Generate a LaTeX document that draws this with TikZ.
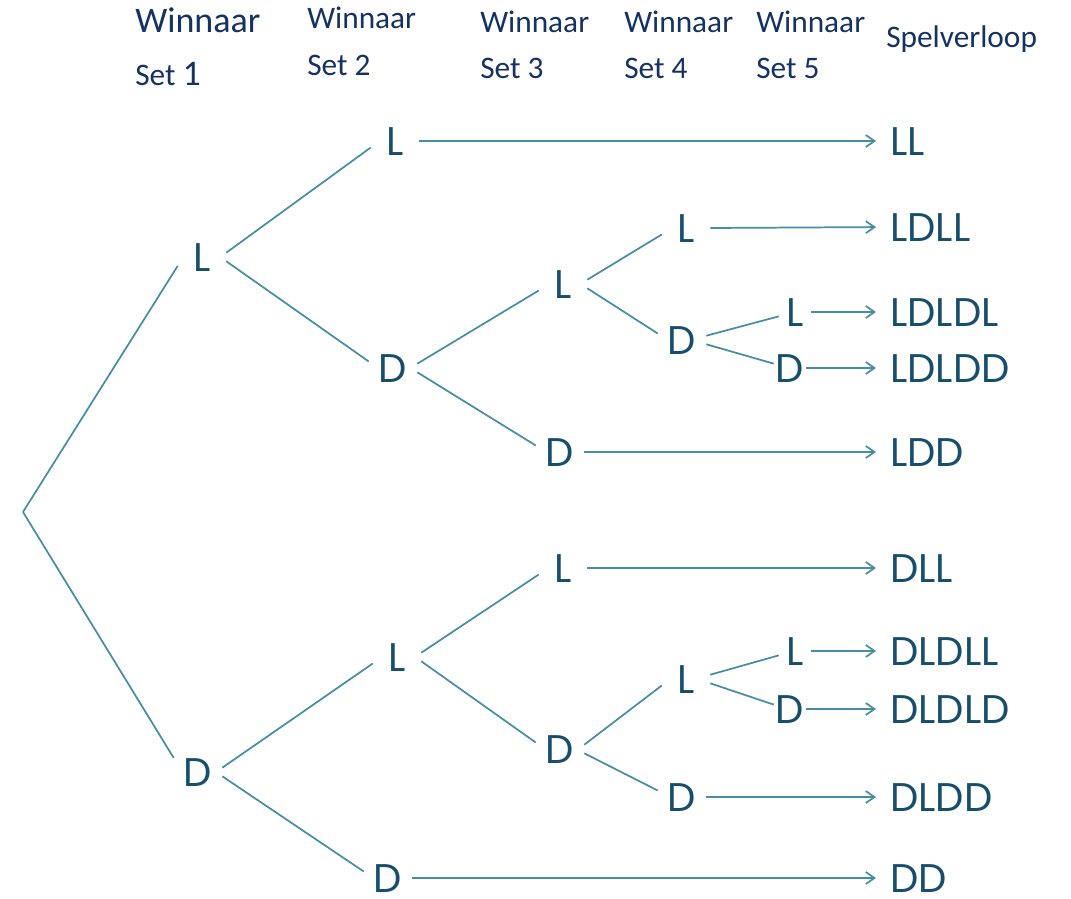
\documentclass[tikz,border=0pt]{standalone}
\usepackage{fontspec}
\setmainfont{Carlito}
\newfontfamily\treefont{Poppins}
\usetikzlibrary{arrows.meta}
\definecolor{hdrcol}{RGB}{22,50,98}
\definecolor{txcol}{RGB}{22,78,108}
\definecolor{lncol}{RGB}{72,142,163}
\begin{document}
\begin{tikzpicture}[x=0.75pt,y=-0.75pt,
  hdr/.style={text=hdrcol, anchor=base west, inner sep=0pt, font=\fontsize{23.5}{28}\selectfont},
  hdrbig/.style={hdr, font=\fontsize{27}{32}\selectfont},
  tn/.style={text=txcol, inner sep=0pt, minimum width=36pt, text height=21pt, text depth=0pt, font=\treefont\fontsize{30}{36}\selectfont},
  tnsmall/.style={tn, minimum width=24pt},
  outnode/.style={text=txcol, inner sep=0pt, anchor=west, text height=21pt, text depth=0pt, font=\treefont\fontsize{30}{36}\selectfont},
  branch/.style={draw=lncol, line width=1.3pt},
  arr/.style={draw=lncol, line width=1.3pt, -{Straight Barb[length=6.5pt,width=9pt,line width=1.3pt]}, shorten >=10.5pt}]
\useasboundingbox (0,0) rectangle (1071,899);
% headers
\node[hdrbig] (h1a) at (135,33) {Winnaar};
\node[hdr] (h1b) at (135,86) {Set {\fontsize{27}{32}\selectfont 1}};
\node[hdr] (h2a) at (307,29) {Winnaar};
\node[hdr] (h2b) at (307,76) {Set 2};
\node[hdr] (h3a) at (480,33) {Winnaar};
\node[hdr] (h3b) at (480,79) {Set 3};
\node[hdr] (h4a) at (624,33) {Winnaar};
\node[hdr] (h4b) at (624,79) {Set 4};
\node[hdr] (h5a) at (756,33) {Winnaar};
\node[hdr] (h5b) at (756,79) {Set 5};
\node[hdr] (h6) at (886,48) {Spelverloop};
% tree nodes
\coordinate (root) at (23,512);
\node[tn] (L1) at (202,257) {L};
\node[tn] (D1) at (198,772) {D};
\node[tn] (L2a) at (395,141) {L};
\node[tn] (D2a) at (393,368) {D};
\node[tn] (L2b) at (397,657) {L};
\node[tn] (D2b) at (388,878) {D};
\node[tn] (L3a) at (563,284) {L};
\node[tn] (D3a) at (560,452) {D};
\node[tn] (L3b) at (563,568) {L};
\node[tn] (D3b) at (560,749) {D};
\node[tn] (L4a) at (686,228) {L};
\node[tn] (D4a) at (682,340) {D};
\node[tn] (L4b) at (686,679) {L};
\node[tn] (D4b) at (682,797) {D};
\node[tnsmall] (L5a) at (795,312) {L};
\node[tnsmall] (D5a) at (790,368) {D};
\node[tnsmall] (L5b) at (795,651) {L};
\node[tnsmall] (D5b) at (790,709) {D};
% outcomes
\node[outnode] (oLL) at (890,141) {LL};
\node[outnode] (oLDLL) at (890,227) {LDLL};
\node[outnode] (oLDLDL) at (890,312) {LDLDL};
\node[outnode] (oLDLDD) at (890,368) {LDLDD};
\node[outnode] (oLDD) at (890,452) {LDD};
\node[outnode] (oDLL) at (890,568) {DLL};
\node[outnode] (oDLDLL) at (890,651) {DLDLL};
\node[outnode] (oDLDLD) at (890,709) {DLDLD};
\node[outnode] (oDLDD) at (890,797) {DLDD};
\node[outnode] (oDD) at (890,878) {DD};
% branches
\draw[branch] (root) -- (L1.200);
\draw[branch] (root) -- (D1.150);
\draw[branch] (L1.10) -- (L2a.195);
\draw[branch] (L1.-10) -- (D2a.165);
\draw[branch] (D2a.10) -- (L3a.195);
\draw[branch] (D2a.-10) -- (D3a.165);
\draw[branch] (L3a.10) -- (L4a.195);
\draw[branch] (L3a.-10) -- (D4a.165);
\draw[branch] (D4a.10) -- (L5a.195);
\draw[branch] (D4a.-10) -- (D5a.165);
\draw[branch] (D1.10) -- (L2b.195);
\draw[branch] (D1.-10) -- (D2b.165);
\draw[branch] (L2b.10) -- (L3b.195);
\draw[branch] (L2b.-10) -- (D3b.165);
\draw[branch] (D3b.10) -- (L4b.195);
\draw[branch] (D3b.-10) -- (D4b.165);
\draw[branch] (L4b.10) -- (L5b.195);
\draw[branch] (L4b.-10) -- (D5b.165);
% arrows
\draw[arr] (L2a.east) -- (oLL.west);
\draw[arr] (L4a.east) -- (oLDLL.west);
\draw[arr] (L5a.east) -- (oLDLDL.west);
\draw[arr] (D5a.east) -- (oLDLDD.west);
\draw[arr] (D3a.east) -- (oLDD.west);
\draw[arr] (L3b.east) -- (oDLL.west);
\draw[arr] (L5b.east) -- (oDLDLL.west);
\draw[arr] (D5b.east) -- (oDLDLD.west);
\draw[arr] (D4b.east) -- (oDLDD.west);
\draw[arr] (D2b.east) -- (oDD.west);
\end{tikzpicture}
\end{document}
